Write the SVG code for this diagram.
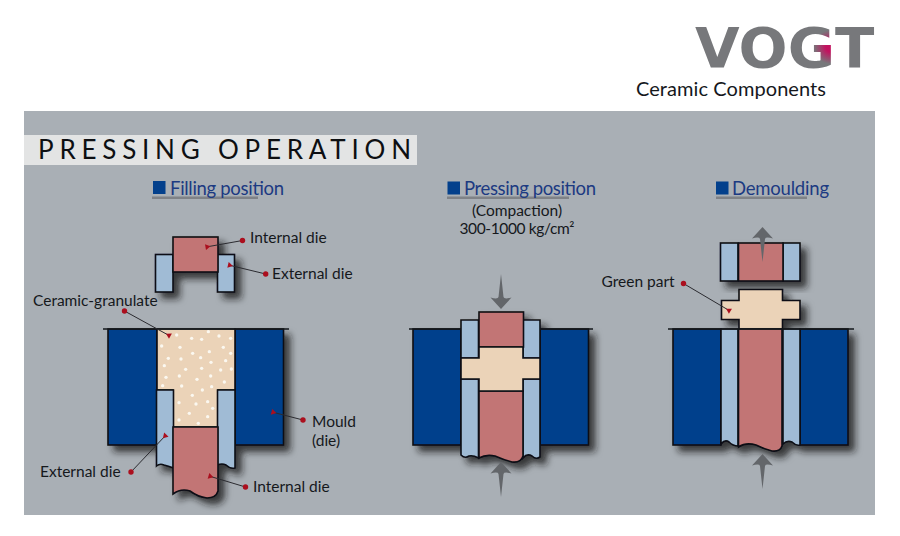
<svg xmlns="http://www.w3.org/2000/svg" width="900" height="536" viewBox="0 0 900 536">
<style>
text{font-family:Lato,"Open Sans",sans-serif;fill:#15181c}
.lb{font-size:15.500px}
.hd{font-size:18.500px;fill:#1c3a82}
.sq{fill:#03408c}
.ul{fill:#7f8287}
.m{fill:#03418c;stroke:#0c0f14;stroke-width:1.6}
.e{fill:#a0bbd5;stroke:#0c0f14;stroke-width:1.6}
.i{fill:#c27575;stroke:#0c0f14;stroke-width:1.6}
.g{fill:#ebd3b8;stroke:#0c0f14;stroke-width:1.6}
.top{stroke:#15181c;stroke-width:1.3}
.ar{fill:#63666a}
.ld{stroke:#2b2b30;stroke-width:1;fill:none;marker-end:url(#h)}
.dot{fill:#ab0f1e}
.sh{filter:url(#s)}
.gd circle{fill:#fbf8f0}
</style>
<defs>
<filter id="s" x="-20%" y="-20%" width="150%" height="150%"><feDropShadow dx="6" dy="6" stdDeviation="3.500" flood-color="#15161a" flood-opacity=".8"/></filter>
<marker id="h" markerWidth="6" markerHeight="6" refX="4.500" refY="3" orient="auto"><path d="M0 3L5 0V6Z" fill="#ab0f1e"/></marker>
<radialGradient id="lg" gradientUnits="userSpaceOnUse" cx="132" cy="-20" r="17"><stop offset="0" stop-color="#c2125f"/><stop offset=".3" stop-color="#c2125f"/><stop offset="1" stop-color="#77787b"/></radialGradient>
<path id="au" d="M0 0L-10.500 11.500Q-3 9.500 -2.500 12L0 35L2.500 12Q3 9.500 10.500 11.500Z" class="ar"/>
</defs>
<rect width="900" height="536" fill="#fff"/>
<rect x="24" y="111" width="851" height="404" fill="#a9afb5"/>

<g id="logo">
<text transform="translate(695 67) scale(1.03 1)" font-size="56" font-weight="700" style='font-family:"DejaVu Sans",sans-serif;fill:#77787b'>VO<tspan style="fill:url(#lg)">G</tspan>T</text>
<text x="636" y="96" font-size="20" textLength="190">Ceramic Components</text>
</g>

<g id="title">
<rect x="24" y="135" width="393" height="30" fill="#e3e4e4"/>
<text x="38" y="159" font-size="26" textLength="373" style="fill:#0d0f12">PRESSING OPERATION</text>
</g>

<g id="heading-filling">
<rect x="153" y="181" width="12.500" height="13" class="sq"/>
<rect x="152" y="196.500" width="106" height="2.500" class="ul"/>
<text x="170" y="195" class="hd" textLength="114">Filling position</text>
</g>
<g id="heading-pressing">
<rect x="447.500" y="181.500" width="12.500" height="13" class="sq"/>
<rect x="447" y="196.500" width="122" height="2.500" class="ul"/>
<text x="464" y="195" class="hd" textLength="132">Pressing position</text>
<text x="517" y="216" class="lb" text-anchor="middle">(Compaction)</text>
<text x="517" y="234" class="lb" text-anchor="middle" textLength="115">300-1000 kg/cm²</text>
</g>
<g id="heading-demoulding">
<rect x="716" y="181.500" width="12.500" height="13" class="sq"/>
<rect x="716" y="196.500" width="91" height="2.500" class="ul"/>
<text x="732" y="195" class="hd" textLength="97">Demoulding</text>
</g>

<g id="filling-upper-die" class="sh">
<rect x="155.500" y="254.500" width="17.500" height="37.500" class="e"/>
<rect x="217.500" y="254.500" width="17" height="37.500" class="e"/>
<rect x="173" y="237" width="45" height="35" class="i"/>
</g>

<g id="filling-mould">
<g class="sh">
<rect x="108" y="329" width="49" height="116" class="m"/>
<rect x="235" y="329" width="48.500" height="116" class="m"/>
<path d="M157 329H235V390H218V427H173V390H157Z" class="g"/>
<path d="M156.500 390H173.500V468Q168 466 164 465Q160 463 156.500 466Z" class="e"/>
<path d="M217.500 390H235V468Q230 469 226 465Q222 463 217.500 465Z" class="e"/>
<path d="M173 427H218V491Q216 498 207 498Q198 497 190 491Q181 488 173 494Z" class="i"/>
</g>
<g class="gd" transform="translate(20 320) scale(.33333)">
<circle cx="470" cy="45" r="5"/><circle cx="515" cy="55" r="5"/><circle cx="545" cy="58" r="5"/><circle cx="565" cy="35" r="5"/><circle cx="597" cy="48" r="5"/><circle cx="632" cy="55" r="5"/><circle cx="425" cy="78" r="5"/><circle cx="480" cy="82" r="5"/><circle cx="518" cy="100" r="5"/><circle cx="568" cy="95" r="5"/><circle cx="610" cy="82" r="5"/><circle cx="632" cy="100" r="5"/><circle cx="445" cy="115" r="5"/><circle cx="483" cy="117" r="5"/><circle cx="542" cy="113" r="5"/><circle cx="573" cy="127" r="5"/><circle cx="617" cy="122" r="5"/><circle cx="433" cy="137" r="5"/><circle cx="497" cy="148" r="5"/><circle cx="545" cy="145" r="5"/><circle cx="602" cy="150" r="5"/><circle cx="634" cy="147" r="5"/><circle cx="478" cy="168" r="5"/><circle cx="438" cy="172" r="5"/><circle cx="531" cy="178" r="5"/><circle cx="572" cy="168" r="5"/><circle cx="613" cy="186" r="5"/><circle cx="428" cy="197" r="5"/><circle cx="485" cy="198" r="5"/><circle cx="547" cy="210" r="5"/><circle cx="575" cy="200" r="5"/><circle cx="517" cy="226" r="5"/><circle cx="477" cy="248" r="5"/><circle cx="563" cy="245" r="5"/><circle cx="528" cy="252" r="5"/><circle cx="578" cy="265" r="5"/><circle cx="508" cy="280" r="5"/><circle cx="563" cy="290" r="5"/><circle cx="477" cy="300" r="5"/><circle cx="535" cy="310" r="5"/>
</g>
<line x1="103" y1="329" x2="289" y2="329" class="top"/>
</g>

<g id="pressing-assembly">
<g class="sh">
<rect x="413" y="329" width="48" height="116" class="m"/>
<rect x="540" y="329" width="48.500" height="116" class="m"/>
<path d="M461 320H478.500V358H461Z" class="e"/>
<path d="M523 320H540V358H523Z" class="e"/>
<path d="M461 379H478.500V458Q473 455 469 456Q465 459 461 455Z" class="e"/>
<path d="M523 379H540V457Q536 460 532 456Q527 453 523 458Z" class="e"/>
<rect x="479" y="312" width="44.500" height="35" class="i"/>
<path d="M479 391H523V456Q521 463 512 462Q504 460 495 456Q486 454 479 458Z" class="i"/>
<path d="M479 347H523V358H540V379H523V391H479V379H461V358H479Z" class="g"/>
</g>
<line x1="409" y1="329" x2="461" y2="329" class="top"/>
<line x1="540" y1="329" x2="593" y2="329" class="top"/>
<use href="#au" transform="translate(501 309) rotate(180)"/>
<use href="#au" transform="translate(501 462)"/>
</g>

<g id="demoulding-upper-die">
<g class="sh">
<rect x="720.500" y="243" width="17.500" height="38" class="e"/>
<rect x="783" y="243" width="17" height="38" class="e"/>
<rect x="738.500" y="243" width="44.500" height="38" class="i"/>
</g>
<use href="#au" transform="translate(762.500 227)"/>
</g>

<g id="green-part" class="sh">
<path d="M739 289.500H782.500V300.500H800V319.500H782.500V329H739V319.500H721.500V300.500H739Z" class="g"/>
</g>

<g id="demoulding-mould">
<g class="sh">
<rect x="673" y="329" width="48" height="116" class="m"/>
<rect x="800" y="329" width="48" height="116" class="m"/>
<path d="M721 329H738V446Q733 446 729 442Q725 439 721 444Z" class="e"/>
<path d="M783 329H800V445Q796 446 792 442Q787 440 783 444Z" class="e"/>
<path d="M738.500 329H782V446Q780 452 772 451Q764 449 756 445Q746 442 738.500 447Z" class="i"/>
</g>
<line x1="668" y1="329" x2="854" y2="329" class="top"/>
<use href="#au" transform="translate(762.500 454)"/>
</g>

<g id="labels">
<text x="250" y="243" class="lb">Internal die</text>
<text x="272" y="279" class="lb">External die</text>
<text x="33" y="306" class="lb">Ceramic-granulate</text>
<text x="312" y="427" class="lb">Mould</text>
<text x="312" y="446" class="lb">(die)</text>
<text x="40" y="477" class="lb">External die</text>
<text x="253" y="492" class="lb">Internal die</text>
<text x="601.500" y="287" class="lb">Green part</text>
</g>

<g id="connectors">
<line x1="242.500" y1="240.500" x2="206" y2="247" class="ld"/><circle cx="242.500" cy="240.500" r="2.700" class="dot"/>
<line x1="265.700" y1="274" x2="228.500" y2="265" class="ld"/><circle cx="265.700" cy="274" r="2.700" class="dot"/>
<line x1="124.500" y1="311" x2="170" y2="336" class="ld"/><circle cx="124.500" cy="311" r="2.700" class="dot"/>
<line x1="303" y1="420" x2="272" y2="412" class="ld"/><circle cx="303" cy="420" r="2.700" class="dot"/>
<line x1="131" y1="472" x2="166" y2="435" class="ld"/><circle cx="131" cy="472" r="2.700" class="dot"/>
<line x1="245.500" y1="487" x2="209" y2="476" class="ld"/><circle cx="245.500" cy="487" r="2.700" class="dot"/>
<line x1="683.500" y1="283.500" x2="730" y2="311" class="ld"/><circle cx="683.500" cy="283.500" r="2.700" class="dot"/>
</g>
</svg>
